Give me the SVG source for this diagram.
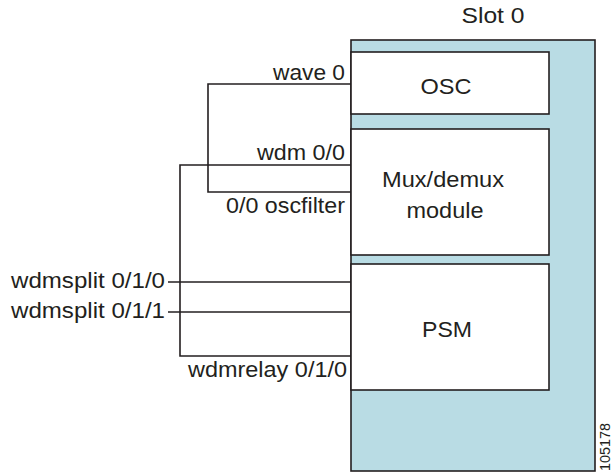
<svg xmlns="http://www.w3.org/2000/svg" width="612" height="473" viewBox="0 0 612 473">
<style>
.t{font-family:"Liberation Sans",Arial,sans-serif;font-size:22px;fill:#231f20}
.c{text-anchor:middle}
.e{text-anchor:end}
.box{fill:#ffffff;stroke:#231f20;stroke-width:1.6}
.ln{fill:none;stroke:#231f20;stroke-width:1.6}
</style>
<rect width="612" height="473" fill="#ffffff"/>
<g id="slot0">
<rect x="351" y="40" width="244" height="431" fill="#b9dce4" stroke="#231f20" stroke-width="1.6"/>
<text class="t c" x="493" y="23" textLength="63" lengthAdjust="spacingAndGlyphs">Slot 0</text>
</g>
<g id="osc">
<rect class="box" x="351" y="52" width="198" height="62"/>
<text class="t c" x="446" y="94" textLength="51" lengthAdjust="spacingAndGlyphs">OSC</text>
</g>
<g id="mux">
<rect class="box" x="351" y="129" width="198" height="126"/>
<text class="t c" x="443" y="187" textLength="122" lengthAdjust="spacingAndGlyphs">Mux/demux</text>
<text class="t c" x="445" y="218" textLength="77" lengthAdjust="spacingAndGlyphs">module</text>
</g>
<g id="psm">
<rect class="box" x="351" y="264" width="198" height="126"/>
<text class="t c" x="447" y="337" textLength="50" lengthAdjust="spacingAndGlyphs">PSM</text>
</g>
<g id="connectors">
<polyline class="ln" points="351,84 208,84 208,192 351,192"/>
<polyline class="ln" points="351,165 180,165 180,356 351,356"/>
<line class="ln" x1="168" y1="282" x2="351" y2="282"/>
<line class="ln" x1="168" y1="312" x2="351" y2="312"/>
</g>
<g id="labels">
<text class="t e" x="345" y="80" textLength="72" lengthAdjust="spacingAndGlyphs">wave 0</text>
<text class="t e" x="345" y="160" textLength="88" lengthAdjust="spacingAndGlyphs">wdm 0/0</text>
<text class="t e" x="345" y="213" textLength="119" lengthAdjust="spacingAndGlyphs">0/0 oscfilter</text>
<text class="t" x="11" y="288" textLength="154" lengthAdjust="spacingAndGlyphs">wdmsplit 0/1/0</text>
<text class="t" x="11" y="318" textLength="154" lengthAdjust="spacingAndGlyphs">wdmsplit 0/1/1</text>
<text class="t e" x="347" y="377" textLength="159" lengthAdjust="spacingAndGlyphs">wdmrelay 0/1/0</text>
<text class="t" transform="translate(610,471) rotate(-90)" style="font-size:14px" textLength="48" lengthAdjust="spacingAndGlyphs">105178</text>
</g>
</svg>
